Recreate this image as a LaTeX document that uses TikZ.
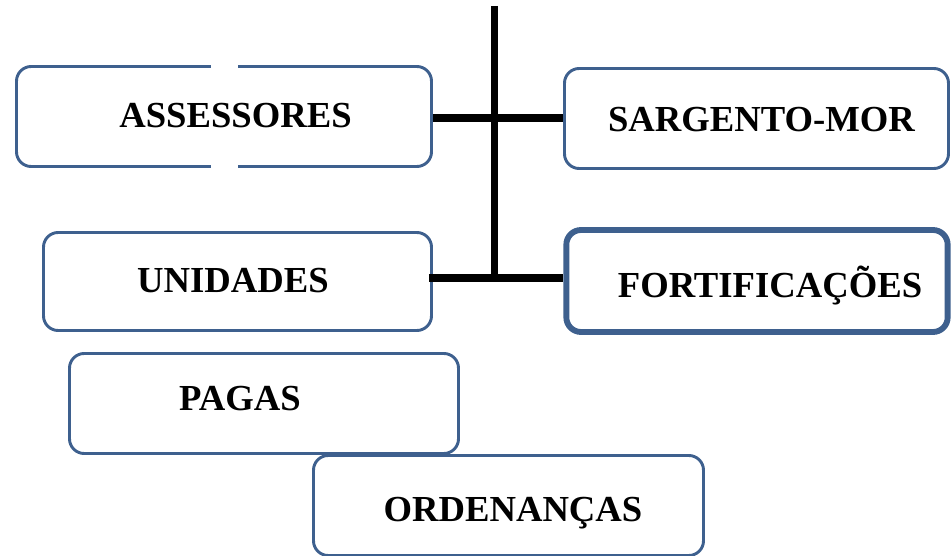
\documentclass[tikz,border=0pt]{standalone}
\usepackage{fontspec}
\setmainfont{Liberation Serif}
\definecolor{boxblue}{RGB}{62, 96, 142}
\usepackage{tikz}
\usetikzlibrary{positioning, calc}

\begin{document}
\begin{tikzpicture}[
  x=0.75pt, y=-0.75pt,
  orgbox/.style={draw=boxblue, line width=2.2pt, fill=white, rounded corners=11pt, inner sep=0pt},
  orgtext/.style={anchor=base, font=\fontsize{27.5}{33}\selectfont\bfseries},
  link/.style={line width=6.5pt}
]
  \useasboundingbox (0, 0) rectangle (951, 556);

  % boxes
  \node[orgbox, minimum width=311.25pt, minimum height=75pt] (assess) at (224, 116.5) {};
  \node[orgbox, minimum width=288pt, minimum height=75pt] (sarg) at (756.5, 118.5) {};
  \node[orgbox, minimum width=291pt, minimum height=73.5pt] (unid) at (237.5, 281.5) {};
  \node[orgbox, line width=4.4pt, minimum width=286pt, minimum height=76.5pt] (fort) at (757, 281) {};
  \node[orgbox, minimum width=291.75pt, minimum height=75pt] (pagas) at (264, 403.5) {};
  \node[orgbox, minimum width=292.5pt, minimum height=75pt] (orden) at (508.5, 505.5) {};

  % break in the border
  \fill[white] (211, 60) rectangle (238, 72);
  \fill[white] (211, 161) rectangle (238, 173);

  % texts
  \node[orgtext] (assesstxt) at (235.5, 128) {ASSESSORES};
  \node[orgtext] (sargtxt) at (761.5, 132) {SARGENTO-MOR};
  \node[orgtext] (unidtxt) at (233, 293) {UNIDADES};
  \node[orgtext] (forttxt) at (770, 298) {FORTIFICAÇÕES};
  \node[orgtext] (pagastxt) at (240, 411) {PAGAS};
  \node[orgtext] (ordentxt) at (513, 521) {ORDENANÇAS};

  % connectors
  \coordinate (top) at (494.5, 6);
  \coordinate (hubA) at (494.5, 118);
  \coordinate (hubB) at (494.5, 278);
  \draw[line width=5.25pt] (top) -- (hubB);
  \draw[link] (assess.east |- hubA) -- (sarg.west |- hubA);
  \draw[link] ($(unid.east |- hubB) + (-4, 0)$) -- (fort.west |- hubB);
\end{tikzpicture}
\end{document}
